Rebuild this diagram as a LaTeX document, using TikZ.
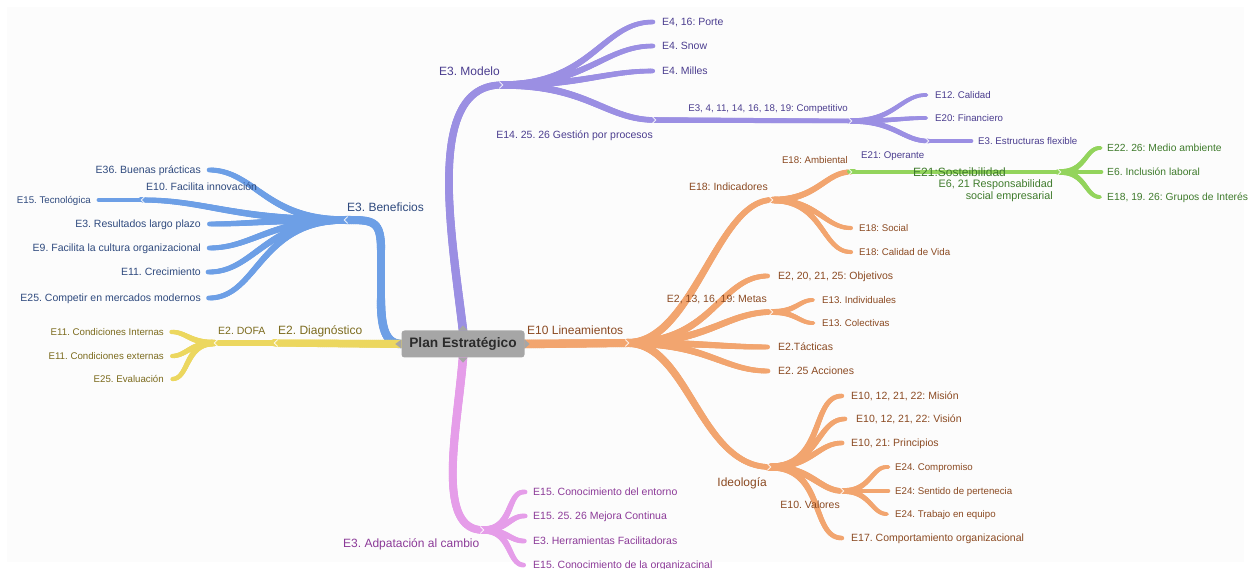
\documentclass[tikz,border=0pt]{standalone}
\usepackage{fontspec}
\setmainfont{Liberation Sans}
\usetikzlibrary{decorations.markings}
\frenchspacing
\definecolor{bgc}{HTML}{FCFCFC}
\definecolor{pl}{HTML}{9B8FE3}
\definecolor{pt}{HTML}{4B3D8F}
\definecolor{bl}{HTML}{6D9FE6}
\definecolor{bt}{HTML}{2F4A7E}
\definecolor{yl}{HTML}{ECD75F}
\definecolor{yt}{HTML}{7C6B1E}
\definecolor{kl}{HTML}{E59DE9}
\definecolor{kt}{HTML}{8C3A98}
\definecolor{ol}{HTML}{F2A56F}
\definecolor{ot}{HTML}{8B4A22}
\definecolor{gl}{HTML}{93D45C}
\definecolor{gt}{HTML}{3F7B2C}
\definecolor{plang}{HTML}{A6A6A6}
\definecolor{plant}{HTML}{2B2B2B}
\newcommand{\mmR}[1]{\draw[chev] ([shift={(-2.5,3.2)}]#1) -- ([shift={(0.8,0)}]#1) -- ([shift={(-2.5,-3.2)}]#1);}
\newcommand{\mmL}[1]{\draw[chev] ([shift={(2.5,3.2)}]#1) -- ([shift={(-0.8,0)}]#1) -- ([shift={(2.5,-3.2)}]#1);}
\begin{document}
\begin{tikzpicture}[x=1pt,y=1pt,
  tp/.style n args={3}{postaction={decorate,decoration={markings,
    mark=between positions 0 and 1 step 2pt with {%
      \pgfmathsetmacro{\tpr}{#2+(#3-#2)*\pgfkeysvalueof{/pgf/decoration/mark info/distance from start}/\pgfdecoratedpathlength}%
      \pgfsetstrokecolor{#1}\pgfsetlinewidth{\tpr pt}\pgfsetroundcap
      \pgfpathmoveto{\pgfqpoint{-1.4pt}{0pt}}\pgfpathlineto{\pgfqpoint{1.4pt}{0pt}}\pgfusepath{stroke}}}}},
  fr/.style={out=0,in=180,out looseness=1.4,in looseness=0.8},
  fl/.style={out=180,in=0,out looseness=1.4,in looseness=0.8},
  chev/.style={draw=white,line width=0.9pt,line cap=round,opacity=0.85},
  tb/.style={inner sep=0pt,text height=8.6pt,text depth=0pt,font=\fontsize{12}{14}\selectfont},
  tm/.style={inner sep=0pt,text height=7.5pt,text depth=0pt,font=\fontsize{10.5}{12.6}\selectfont},
  tg/.style={inner sep=0pt,text height=7.4pt,text depth=0pt,font=\fontsize{10.3}{12.4}\selectfont},
  ts/.style={inner sep=0pt,text height=7pt,text depth=0pt,font=\fontsize{9.7}{11.6}\selectfont},
  planbox/.style={fill=plang,text=plant,rounded corners=3pt,minimum width=123pt,minimum height=27pt,inner sep=0pt,font=\bfseries\fontsize{13.7}{16}\selectfont}
]
\useasboundingbox (0,0) rectangle (1251,-569);
\fill[white] (0,0) rectangle (1251,-569);
\fill[bgc] (7,-7) rectangle (1244,-562);

% anchor points of the central node
\coordinate (pW) at (401.5,-344);
\coordinate (pE) at (524.5,-344);
\coordinate (pN) at (463,-330.5);
\coordinate (pS) at (463,-357.5);

% junctions and ends
% purple
\coordinate (modJ) at (502,-85);
\coordinate (porteE) at (653,-22);
\coordinate (snowE) at (653,-46);
\coordinate (millesE) at (653,-71);
\coordinate (gestJ) at (655,-120);
\coordinate (compJ) at (851,-121);
\coordinate (calE) at (926,-95);
\coordinate (finE) at (926,-118);
\coordinate (operJ) at (928,-141);
\coordinate (estrE) at (970,-141);
% blue
\coordinate (bA) at (381,-300);
\coordinate (bB) at (381,-250);
\coordinate (benJ) at (345,-220);
\coordinate (bueE) at (209,-170);
\coordinate (innJ) at (142,-200);
\coordinate (tecE) at (100,-200);
\coordinate (resE) at (209,-224);
\coordinate (culE) at (209,-248);
\coordinate (creE) at (209,-272);
\coordinate (cmpE) at (209,-298);
% yellow
\coordinate (diaJ) at (275,-343);
\coordinate (dofaJ) at (215,-343);
\coordinate (ciE) at (172,-332);
\coordinate (ceE) at (172,-356);
\coordinate (evE) at (172,-379);
% pink
\coordinate (adaJ) at (483,-530);
\coordinate (entE) at (524,-492);
\coordinate (mejE) at (524,-516);
\coordinate (herE) at (524,-541);
\coordinate (orgE) at (524,-565);
% orange
\coordinate (linJ) at (628,-343);
\coordinate (indJ) at (772,-200);
\coordinate (ambJ) at (851,-172);
\coordinate (socE) at (851,-228);
\coordinate (calvE) at (851,-252);
\coordinate (objE) at (768,-276);
\coordinate (metJ) at (772,-312);
\coordinate (indiE) at (813,-300);
\coordinate (colE) at (813,-323);
\coordinate (tacE) at (768,-347);
\coordinate (accE) at (768,-371);
\coordinate (ideJ) at (770,-467);
\coordinate (misE) at (842,-396);
\coordinate (visE) at (845,-419);
\coordinate (priE) at (842,-443);
\coordinate (valJ) at (843,-491);
\coordinate (cprE) at (887,-467);
\coordinate (senE) at (887,-491);
\coordinate (traE) at (887,-514);
\coordinate (corE) at (842,-538);
% green
\coordinate (sosJ) at (1060,-172);
\coordinate (maE) at (1100,-148);
\coordinate (incE) at (1100,-172);
\coordinate (gruE) at (1100,-197);

% purple
\path[tp={pl}{8.5}{7}] (pN) .. controls +(-12,100) and +(-77,0) .. (modJ);
\path[tp={pl}{7.5}{4.5}] (modJ) to[fr] (porteE);
\path[tp={pl}{7.5}{4.5}] (modJ) to[fr] (snowE);
\path[tp={pl}{7.5}{4.5}] (modJ) to[fr] (millesE);
\path[tp={pl}{7.5}{5.5}] (modJ) to[fr] (gestJ);
\path[tp={pl}{5.5}{4.5}] (gestJ) -- (compJ);
\path[tp={pl}{5.5}{3.6}] (compJ) to[fr] (calE);
\path[tp={pl}{5.5}{3.6}] (compJ) to[fr] (finE);
\path[tp={pl}{5.5}{4.5}] (compJ) to[fr] (operJ);
\path[tp={pl}{4.5}{3.8}] (operJ) -- (estrE);
% blue
\path[tp={bl}{8.5}{8}] (pW) .. controls +(-15,0) and +(0,-30) .. (bA) -- (bB) .. controls +(0,30) and +(28,0) .. (benJ);
\path[tp={bl}{7.5}{4.8}] (benJ) to[fl] (bueE);
\path[tp={bl}{7.5}{5}] (benJ) to[fl] (innJ);
\path[tp={bl}{7.5}{4.8}] (benJ) to[fl] (resE);
\path[tp={bl}{7.5}{4.8}] (benJ) to[fl] (culE);
\path[tp={bl}{7.5}{4.8}] (benJ) to[fl] (creE);
\path[tp={bl}{7.5}{4.8}] (benJ) to[fl] (cmpE);
\path[tp={bl}{5}{4}] (innJ) -- (tecE);
% yellow
\path[tp={yl}{8}{7}] (pW) -- (diaJ);
\path[tp={yl}{7}{6}] (diaJ) -- (dofaJ);
\path[tp={yl}{6.5}{4.2}] (dofaJ) to[fl] (ciE);
\path[tp={yl}{6.5}{4.2}] (dofaJ) to[fl] (ceE);
\path[tp={yl}{6.5}{4.2}] (dofaJ) to[fl] (evE);
% pink
\path[tp={kl}{8.5}{7.5}] (pS) .. controls +(-6,-73) and +(-48,0) .. (adaJ);
\path[tp={kl}{7.5}{4.5}] (adaJ) to[fr] (entE);
\path[tp={kl}{7.5}{4.5}] (adaJ) to[fr] (mejE);
\path[tp={kl}{7.5}{4.5}] (adaJ) to[fr] (herE);
\path[tp={kl}{7.5}{4.5}] (adaJ) to[fr] (orgE);
% orange
\path[tp={ol}{8.5}{8}] (pE) -- (linJ);
\path[tp={ol}{8}{5.5}] (linJ) .. controls +(65,0) and +(-55,0) .. (indJ);
\path[tp={ol}{8}{4.8}] (linJ) to[fr] (objE);
\path[tp={ol}{8}{5.5}] (linJ) to[fr] (metJ);
\path[tp={ol}{8}{4.8}] (linJ) to[fr] (tacE);
\path[tp={ol}{8}{4.8}] (linJ) to[fr] (accE);
\path[tp={ol}{8}{5.5}] (linJ) .. controls +(60,0) and +(-70,0) .. (ideJ);
\path[tp={ol}{6.5}{5}] (indJ) to[fr] (ambJ);
\path[tp={ol}{6.5}{4}] (indJ) to[fr] (socE);
\path[tp={ol}{6.5}{4}] (indJ) to[fr] (calvE);
\path[tp={ol}{6}{3.8}] (metJ) to[fr] (indiE);
\path[tp={ol}{6}{3.8}] (metJ) to[fr] (colE);
\path[tp={ol}{7}{4.5}] (ideJ) to[fr] (misE);
\path[tp={ol}{7}{4.5}] (ideJ) to[fr] (visE);
\path[tp={ol}{7}{4.5}] (ideJ) to[fr] (priE);
\path[tp={ol}{7}{5.5}] (ideJ) to[fr] (valJ);
\path[tp={ol}{7}{4.5}] (ideJ) to[fr] (corE);
\path[tp={ol}{5.8}{3.8}] (valJ) to[fr] (cprE);
\path[tp={ol}{5.8}{3.8}] (valJ) to[fr] (senE);
\path[tp={ol}{5.8}{3.8}] (valJ) to[fr] (traE);
% green
\path[tp={gl}{5}{4.6}] (ambJ) -- (sosJ);
\path[tp={gl}{5.8}{3.8}] (sosJ) to[fr] (maE);
\path[tp={gl}{5.8}{3.8}] (sosJ) to[fr] (incE);
\path[tp={gl}{5.8}{3.8}] (sosJ) to[fr] (gruE);

% central node
\node[planbox] (plan) at (463,-344) {Plan Estratégico};
\fill[plang] ([yshift=4.5pt]plan.west) -- ++(-6,-4.5) -- ++(6,-4.5) -- cycle;
\fill[plang] ([yshift=4.5pt]plan.east) -- ++(5,-4.5) -- ++(-5,-4.5) -- cycle;
\fill[plang] ([xshift=-4.5pt]plan.north) -- ++(4.5,5) -- ++(4.5,-5) -- cycle;
\fill[plang] ([xshift=-4.5pt]plan.south) -- ++(4.5,-5) -- ++(4.5,5) -- cycle;

% chevrons at junctions
\mmR{modJ} \mmR{gestJ} \mmR{compJ} \mmR{operJ}
\mmL{benJ} \mmL{innJ} \mmL{diaJ} \mmL{dofaJ}
\mmR{linJ} \mmR{indJ} \mmR{metJ} \mmR{ideJ} \mmR{valJ} \mmR{ambJ} \mmR{sosJ}
\mmR{adaJ}

% purple labels
\node[tb,text=pt,anchor=east] (modL) at (500,-71) {E3. Modelo};
\node[tm,text=pt,anchor=west] (porteL) at (662,-22) {E4, 16: Porte};
\node[tm,text=pt,anchor=west] (snowL) at (662,-46) {E4. Snow};
\node[tm,text=pt,anchor=west] (millesL) at (662,-71) {E4. Milles};
\node[tm,text=pt,anchor=east] (gestL) at (653,-135) {E14. 25. 26 Gestión por procesos};
\node[ts,text=pt,anchor=east] (compL) at (848,-108) {E3, 4, 11, 14, 16, 18, 19: Competitivo};
\node[ts,text=pt,anchor=west] (calL) at (935,-95) {E12. Calidad};
\node[ts,text=pt,anchor=west] (finL) at (935,-118) {E20: Financiero};
\node[ts,text=pt,anchor=west] (operL) at (861,-155) {E21: Operante};
\node[ts,text=pt,anchor=west] (estrL) at (978,-141) {E3. Estructuras flexible};

% blue labels
\node[tb,text=bt,anchor=west] (benL) at (347,-207) {E3. Beneficios};
\node[tm,text=bt,anchor=east] (bueL) at (201,-170) {E36. Buenas prácticas};
\node[tm,text=bt,anchor=west] (innL) at (146,-187) {E10. Facilita innovación};
\node[ts,text=bt,anchor=east] (tecL) at (91,-200) {E15. Tecnológica};
\node[tm,text=bt,anchor=east] (resL) at (201,-224) {E3. Resultados largo plazo};
\node[tm,text=bt,anchor=east] (culL) at (201,-248) {E9. Facilita la cultura organizacional};
\node[tm,text=bt,anchor=east] (creL) at (201,-272) {E11. Crecimiento};
\node[tm,text=bt,anchor=east] (cmpL) at (201,-298) {E25. Competir en mercados modernos};

% yellow labels
\node[tb,text=yt,anchor=west] (diaL) at (278,-330) {E2. Diagnóstico};
\node[tm,text=yt,anchor=west] (dofaL) at (218,-331) {E2. DOFA};
\node[ts,text=yt,anchor=east] (ciL) at (164,-332) {E11. Condiciones Internas};
\node[ts,text=yt,anchor=east] (ceL) at (164,-356) {E11. Condiciones externas};
\node[ts,text=yt,anchor=east] (evL) at (164,-379) {E25. Evaluación};

% pink labels
\node[tb,text=kt,anchor=west] (adaL) at (343,-543) {E3. Adpatación al cambio};
\node[tm,text=kt,anchor=west] (entL) at (533,-492) {E15. Conocimiento del entorno};
\node[tm,text=kt,anchor=west] (mejL) at (533,-516) {E15. 25. 26 Mejora Continua};
\node[tm,text=kt,anchor=west] (herL) at (533,-541) {E3. Herramientas Facilitadoras};
\node[tm,text=kt,anchor=west] (orgL) at (533,-565) {E15. Conocimiento de la organizacinal};

% orange labels
\node[tb,text=ot,anchor=west] (linL) at (527,-330) {E10 Lineamientos};
\node[tm,text=ot,anchor=east] (indL) at (768,-187) {E18: Indicadores};
\node[ts,text=ot,anchor=east] (ambL) at (848,-160) {E18: Ambiental};
\node[ts,text=ot,anchor=west] (socL) at (859,-228) {E18: Social};
\node[ts,text=ot,anchor=west] (calvL) at (859,-252) {E18: Calidad de Vida};
\node[tm,text=ot,anchor=west] (objL) at (778,-276) {E2, 20, 21, 25: Objetivos};
\node[tm,text=ot,anchor=east] (metL) at (767,-299) {E2, 13, 16, 19: Metas};
\node[ts,text=ot,anchor=west] (indiL) at (822,-300) {E13. Individuales};
\node[ts,text=ot,anchor=west] (colL) at (822,-323) {E13. Colectivas};
\node[tm,text=ot,anchor=west] (tacL) at (778,-347) {E2.Tácticas};
\node[tm,text=ot,anchor=west] (accL) at (778,-371) {E2. 25 Acciones};
\node[tb,text=ot,anchor=east] (ideL) at (767,-482) {Ideología};
\node[tm,text=ot,anchor=west] (misL) at (851,-396) {E10, 12, 21, 22: Misión};
\node[tm,text=ot,anchor=west] (visL) at (856,-419) {E10, 12, 21, 22: Visión};
\node[tm,text=ot,anchor=west] (priL) at (851,-443) {E10, 21: Principios};
\node[tm,text=ot,anchor=east] (valL) at (840,-505) {E10. Valores};
\node[ts,text=ot,anchor=west] (cprL) at (895,-467) {E24. Compromiso};
\node[ts,text=ot,anchor=west] (senL) at (895,-491) {E24: Sentido de pertenecia};
\node[ts,text=ot,anchor=west] (traL) at (895,-514) {E24. Trabajo en equipo};
\node[tm,text=ot,anchor=west] (corL) at (851,-538) {E17. Comportamiento organizacional};

% green labels
\node[tb,text=gt,anchor=west] (sosL) at (913,-172) {E21:Sosteibilidad};
\node[inner sep=0pt,text=gt,anchor=north east,align=right,font=\fontsize{10.8}{12.5}\selectfont] (rseL) at (1053,-179) {E6, 21 Responsabilidad\\social empresarial};
\node[tg,text=gt,anchor=west] (maL) at (1107,-148) {E22. 26: Medio ambiente};
\node[tg,text=gt,anchor=west] (incL) at (1107,-172) {E6. Inclusión laboral};
\node[tg,text=gt,anchor=west] (gruL) at (1107,-197) {E18, 19. 26: Grupos de Interés};
\end{tikzpicture}
\end{document}
